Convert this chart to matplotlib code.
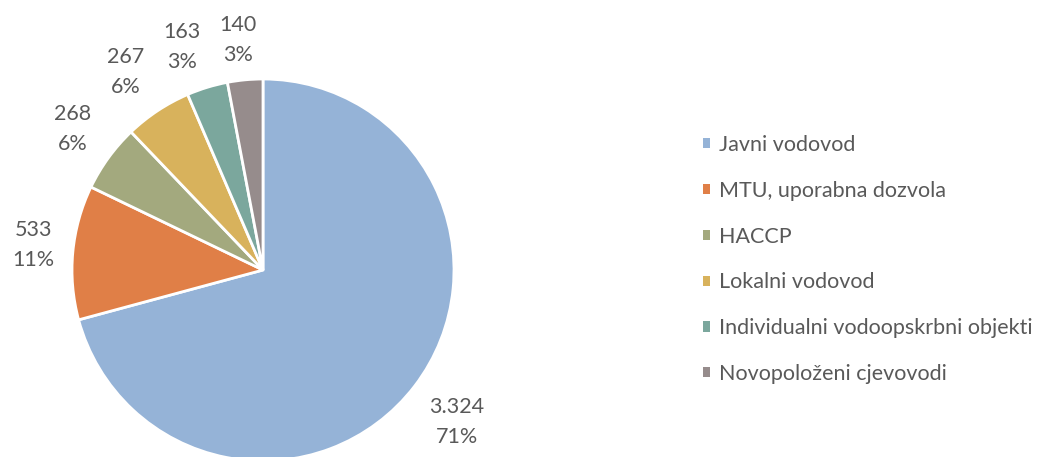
import numpy as np
import matplotlib.pyplot as plt
from matplotlib.patches import Patch

## Data
categories = ['Javni vodovod', 'MTU, uporabna dozvola', 'HACCP',
              'Lokalni vodovod', 'Individualni vodoopskrbni objekti',
              'Novopoloženi cjevovodi']
values = [3324, 533, 268, 267, 163, 140]
colors = ['#95B3D7', '#E07F47', '#A3A97E', '#D8B25C', '#7BA79D', '#968C8C']

# label placement tweaks (distance from centre in radii, angle nudge in deg)
label_dist = [1.29, 1.21, 1.24, 1.26, 1.24, 1.21]
label_nudge = [-0.6, -0.8, -0.5, 1.2, 3.0, 0.8]

text_color = '#595959'
plt.rcParams['font.family'] = ['Lato', 'DejaVu Sans']
fs = 15.5

fig = plt.figure(figsize=(10.37, 4.57), dpi=100)

# pie axes: centre ~ (263, 270) px from top, radius ~191 px
W, H = 1037, 457
cx, cy, r = 263, H - 270, 191
ax = fig.add_axes([(cx - r) / W, (cy - r) / H, 2 * r / W, 2 * r / H])

wedges, _ = ax.pie(values, colors=colors, startangle=90, counterclock=False,
                   radius=1, wedgeprops=dict(edgecolor='white', linewidth=2))
ax.set_xlim(-1, 1)
ax.set_ylim(-1, 1)
ax.set_aspect('equal')
ax.axis('off')

total = sum(values)
for w, v, d, nd in zip(wedges, values, label_dist, label_nudge):
    ang = np.deg2rad((w.theta1 + w.theta2) / 2 + nd)
    pct = round(100 * v / total)
    lab = f'{v:,}'.replace(',', '.') + f'\n{pct}%'
    ax.text(d * np.cos(ang), d * np.sin(ang), lab, ha='center', va='center',
            fontsize=fs, color=text_color, linespacing=1.62, clip_on=False)

handles = [Patch(facecolor=c, edgecolor='none') for c in colors]
leg = fig.legend(handles, categories, loc='center left',
                 bbox_to_anchor=(692 / W, 1 - 259.5 / H), frameon=False,
                 fontsize=fs, labelcolor=text_color, labelspacing=1.2,
                 handlelength=0.35, handleheight=0.35, handletextpad=0.42,
                 borderpad=0)

fig.savefig('out.png', dpi=100)
